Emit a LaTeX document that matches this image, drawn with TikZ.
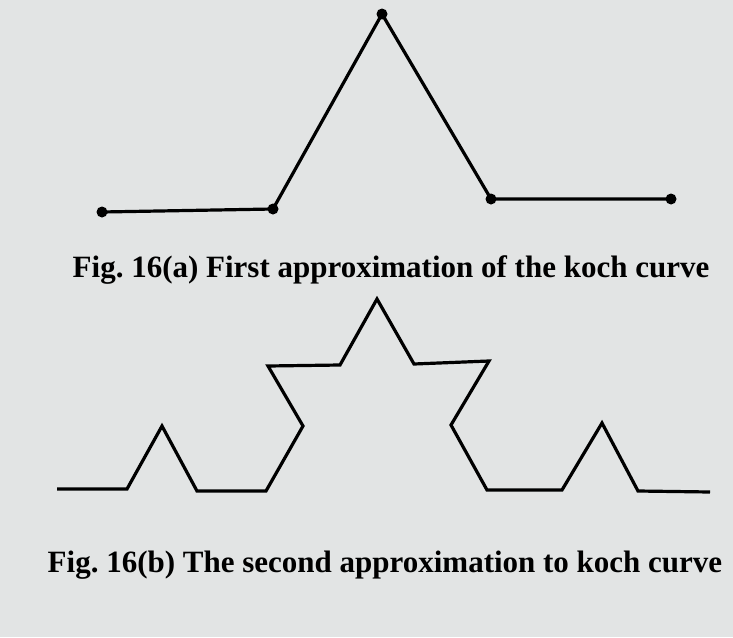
\documentclass[tikz,border=0pt]{standalone}
\usepackage{fontspec}
\setmainfont{Liberation Serif}
\usetikzlibrary{positioning}
\definecolor{paper}{RGB}{226,228,228}

\begin{document}
\begin{tikzpicture}[
  x=1pt, y=-1pt,
  curve/.style={line width=3.2pt, line join=miter, black},
  vertex/.style={circle, fill=black, inner sep=0pt, minimum size=11pt},
  caption/.style={font=\bfseries\fontsize{31}{34}\selectfont, anchor=base, inner sep=0pt}
]
% page with paper tint
\fill[paper] (0,0) rectangle (733,637);

% first approximation
\node[vertex] (a1) at (102,212) {};
\node[vertex] (a2) at (273,209) {};
\node[vertex] (a3) at (382,14) {};
\node[vertex] (a4) at (491,199) {};
\node[vertex] (a5) at (671,199) {};
\draw[curve] (a1.center) -- (a2.center) -- (a3.center) -- (a4.center) -- (a5.center);

\node[caption] (capA) at (391,277) {Fig.\ 16(a) First approximation of the koch curve};

% second approximation
\draw[curve] (57,489) -- (127,489) -- (162,426) -- (197,491) -- (266,491)
  -- (303,426) -- (268,366) -- (340,365) -- (377,299) -- (414,364)
  -- (489,361) -- (451,425) -- (487,490) -- (562,490) -- (602,423)
  -- (638,491) -- (710,492);

\node[caption] (capB) at (385,572) {Fig.\ 16(b) The second approximation to koch curve};
\end{tikzpicture}
\end{document}
